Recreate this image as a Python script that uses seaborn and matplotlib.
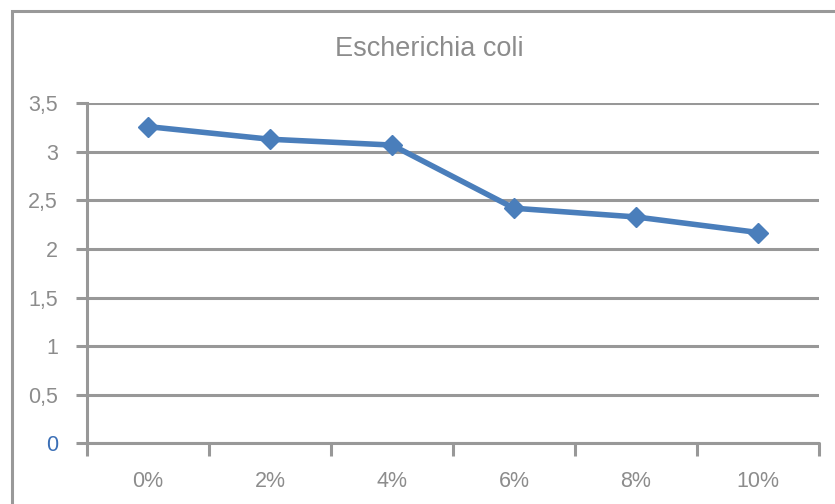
import matplotlib
matplotlib.use("Agg")
import matplotlib.pyplot as plt
import seaborn as sns
import pandas as pd
from matplotlib.patches import Rectangle
from matplotlib.ticker import FixedLocator

# Data
categories = ["0%", "2%", "4%", "6%", "8%", "10%"]
values = [3.26, 3.13, 3.07, 2.42, 2.33, 2.17]
y_ticks = [0, 0.5, 1, 1.5, 2, 2.5, 3, 3.5]
y_tick_labels = ["0", "0,5", "1", "1,5", "2", "2,5", "3", "3,5"]
title = "Escherichia coli"

sns.set_style("white")
plt.rcParams["font.family"] = ["Liberation Sans Narrow", "Liberation Sans", "DejaVu Sans"]

df = pd.DataFrame({"conc": categories, "value": values})

fig = plt.figure(figsize=(8.35, 5.04), dpi=100)
ax = fig.add_axes([87 / 835, 1 - 443.3 / 504, (819 - 87) / 835, (443.3 - 103.3) / 504])

grid_c = "#989898"
line_c = "#4A7EBB"
text_c = "#8C8C8C"

sns.lineplot(data=df, x="conc", y="value", ax=ax, color=line_c, linewidth=4.0,
             marker="D", markersize=10, markeredgecolor=line_c, markeredgewidth=1,
             zorder=5)

ax.set_xlim(-0.5, len(categories) - 0.5)
ax.set_ylim(0, 3.5)
ax.set_xlabel("")
ax.set_ylabel("")

# gridlines
ax.set_yticks(y_ticks)
ax.set_yticklabels(y_tick_labels)
ax.yaxis.grid(True, color=grid_c, linewidth=2.2)
ax.xaxis.grid(False)
ax.set_axisbelow(True)

for s in ["top", "right", "bottom"]:
    ax.spines[s].set_visible(False)
ax.spines["left"].set_color(grid_c)
ax.spines["left"].set_linewidth(2.2)

ax.set_xticks(range(len(categories)))
ax.set_xticklabels(categories)
ax.xaxis.set_minor_locator(FixedLocator([i - 0.5 for i in range(len(categories) + 1)]))
ax.tick_params(axis="x", which="major", length=0, pad=20, labelsize=15.5, labelcolor=text_c)
ax.tick_params(axis="x", which="minor", length=9, width=2.2, color=grid_c, direction="out", bottom=True)
ax.tick_params(axis="y", which="major", length=8, width=2.2, color=grid_c, direction="out",
               pad=13, labelsize=15.5, labelcolor=text_c, left=True)
for lab in ax.get_yticklabels():
    if lab.get_text() == "0":
        lab.set_color("#3B6FB6")

# ensure bottom gridline visible at 0
ax.axhline(0, color=grid_c, linewidth=2.2, zorder=1, clip_on=False)

fig.text((333 + 526) / 2 / 835, 1 - 49 / 504, title, ha="center", va="center",
         fontsize=19.5, color=text_c)

# outer chart border (partly outside image)
fig.patches.append(Rectangle((11.5 / 835, -0.2), 1.2, 1.2 - 11.5 / 504 + 0.0,
                             transform=fig.transFigure, fill=False,
                             edgecolor="#999999", linewidth=2.2, figure=fig))

fig.savefig("out.png", dpi=100)
